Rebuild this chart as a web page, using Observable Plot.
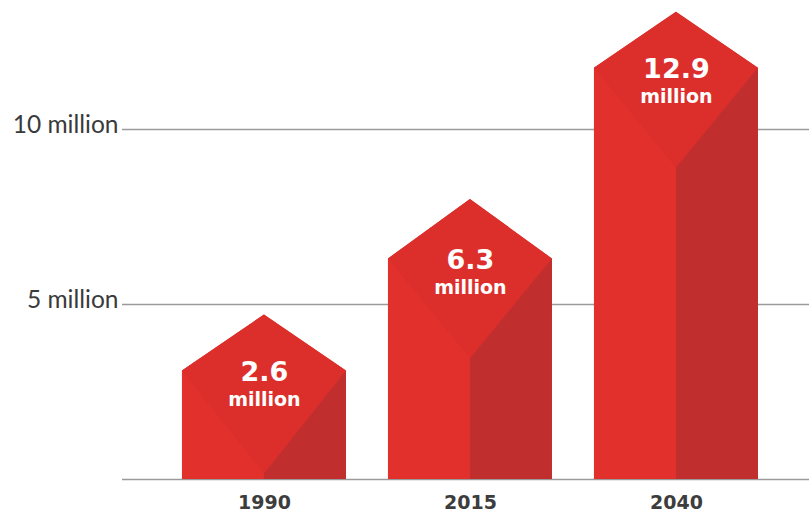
<!DOCTYPE html>
<html><head><meta charset="utf-8">
<script src="https://cdn.jsdelivr.net/npm/d3@7"></script>
<script src="https://cdn.jsdelivr.net/npm/@observablehq/plot@0.6"></script>
<style>body{margin:0;background:#fff}</style>
</head><body><div id="chart"></div>
<script>
// categories and values (millions)
const years = ["1990", "2015", "2040"];
const valueLabels = ["2.6", "6.3", "12.9"];
const unitLabel = "million";
// house shape heights as drawn in the picture (millions)
const eaveHeights = [3.1, 6.3, 11.75];
const peakHeights = [4.7, 8.0, 13.35];
const foldHeights = [0.15, 3.45, 8.9];
const gridTicks = [5, 10];

const hw = 0.398; // half width of a house, in category steps

const body = years.flatMap((y, i) => [
  {id: y, x: i - hw, y1: 0, y2: eaveHeights[i]},
  {id: y, x: i, y1: 0, y2: peakHeights[i]},
  {id: y, x: i + hw, y1: 0, y2: eaveHeights[i]}
]);
const roof = years.flatMap((y, i) => [
  {id: y, x: i - hw, y1: eaveHeights[i], y2: eaveHeights[i]},
  {id: y, x: i, y1: foldHeights[i], y2: peakHeights[i]},
  {id: y, x: i + hw, y1: eaveHeights[i], y2: eaveHeights[i]}
]);
const side = years.flatMap((y, i) => [
  {id: y, x: i, y1: 0, y2: foldHeights[i]},
  {id: y, x: i + hw, y1: 0, y2: eaveHeights[i]}
]);
const labels = years.map((y, i) => ({i, year: y, label: valueLabels[i], eave: eaveHeights[i]}));

const bold = "'DejaVu Sans', sans-serif";

const chart = Plot.plot({
  width: 809,
  height: 513,
  marginLeft: 122,
  marginRight: 0,
  marginTop: 0,
  marginBottom: 34,
  style: {fontFamily: "Lato, sans-serif", color: "#3d3d3d", background: "#fff"},
  x: {type: "linear", domain: [-0.689, 2.646], axis: null},
  y: {domain: [0, 13.686], axis: null},
  marks: [
    Plot.ruleY(gridTicks, {stroke: "#9a9a9a", strokeWidth: 1.6}),
    Plot.ruleY([0], {stroke: "#9a9a9a", strokeWidth: 1.6}),
    Plot.axisY({ticks: gridTicks, tickFormat: d => `${d} million`, tickSize: 0, tickPadding: 4, fontSize: 24.5, dy: -4, fill: "#3a3a3a"}),
    Plot.area(body, {x1: "x", y1: "y1", y2: "y2", z: "id", fill: "#e2312d"}),
    Plot.area(roof, {x1: "x", y1: "y1", y2: "y2", z: "id", fill: "#dc2f2c"}),
    Plot.area(side, {x1: "x", y1: "y1", y2: "y2", z: "id", fill: "#c12e2e"}),
    Plot.text(labels, {x: "i", y: "eave", text: "label", dy: 10, lineAnchor: "bottom", fontSize: 27, fontWeight: 700, fontFamily: bold, fill: "#fff"}),
    Plot.text(labels, {x: "i", y: "eave", text: () => unitLabel, dy: 35, lineAnchor: "bottom", fontSize: 19, fontWeight: 700, fontFamily: bold, fill: "#fff"}),
    Plot.text(labels, {x: "i", y: 0, text: "year", dy: 29, lineAnchor: "bottom", fontSize: 19, fontWeight: 700, fontFamily: bold, fill: "#3d3d3d"})
  ]
});
document.getElementById("chart").appendChild(chart);
</script>
</body></html>
